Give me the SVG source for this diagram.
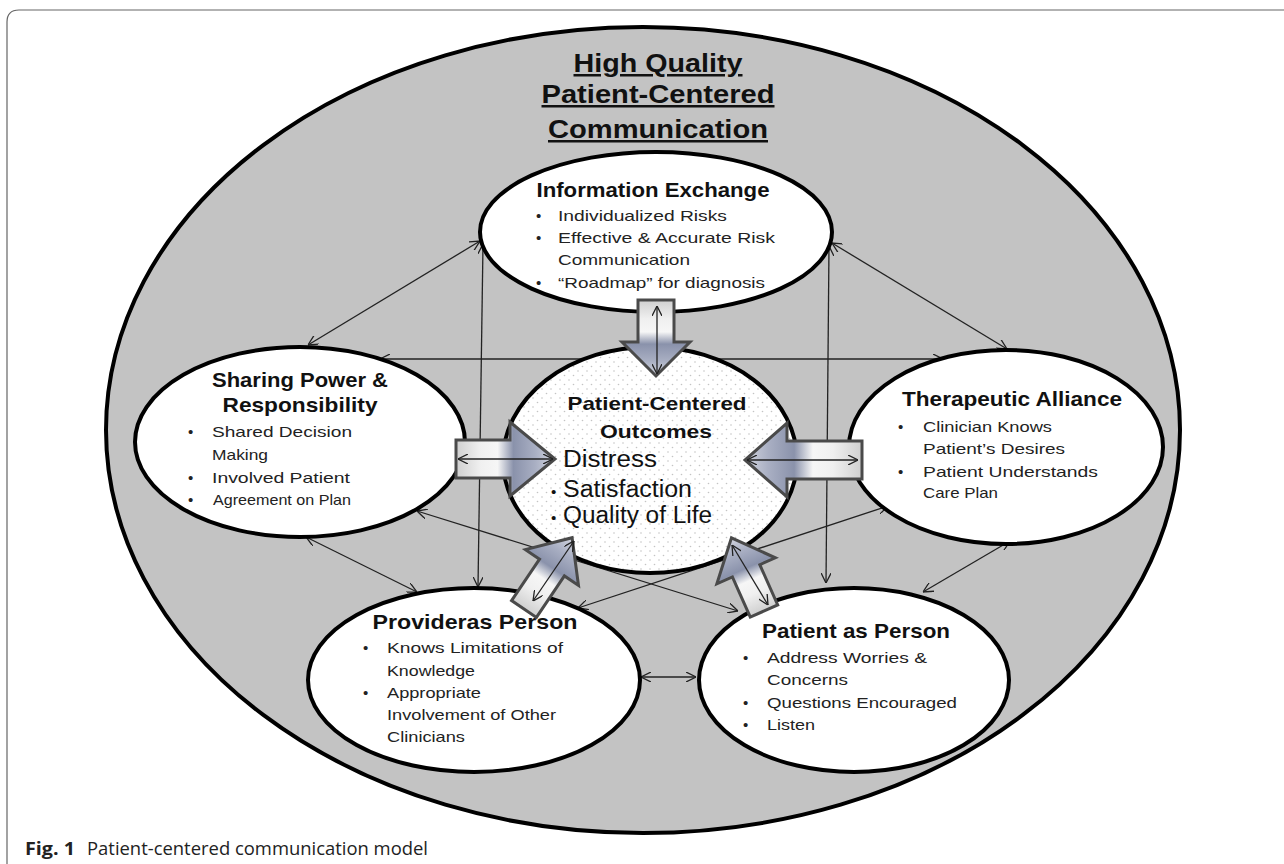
<svg xmlns="http://www.w3.org/2000/svg" width="1284" height="864" viewBox="0 0 1284 864">
<defs>
<style>
.t{font-family:"Liberation Sans",Arial,sans-serif;fill:#111}
.b{font-weight:bold}
.h{font-size:21px;font-weight:bold}
.i{font-size:15px;fill:#222}
.node{fill:#fff;stroke:#000;stroke-width:4}
.con{stroke:#222;stroke-width:1.3;fill:none;marker-start:url(#ah);marker-end:url(#ah)}
.blk{fill:url(#bg);stroke:#4a4a4a;stroke-width:3;stroke-linejoin:miter}
.cap{font-family:"Open Sans","Noto Sans",sans-serif;font-size:18px;fill:#222}
</style>
<marker id="ah" viewBox="0 0 10 10" refX="10" refY="5" markerWidth="10" markerHeight="10" markerUnits="userSpaceOnUse" orient="auto-start-reverse">
<path d="M0,0 L10,5 L0,10" fill="none" stroke="#222" stroke-width="1.3"/>
</marker>
<linearGradient id="bg" x1="0" y1="0" x2="1" y2="0">
<stop offset="0" stop-color="#cfcfcf"/>
<stop offset="0.25" stop-color="#f0f0f0"/>
<stop offset="0.42" stop-color="#f6f6f6"/>
<stop offset="0.58" stop-color="#8a92ab"/>
<stop offset="0.8" stop-color="#a9afc3"/>
<stop offset="1" stop-color="#d2d5df"/>
</linearGradient>
<pattern id="dots" width="9" height="9" patternUnits="userSpaceOnUse">
<rect width="9" height="9" fill="#fff"/>
<circle cx="2" cy="2" r="0.8" fill="#c4c4c4"/>
<circle cx="6.5" cy="6.5" r="0.8" fill="#c4c4c4"/>
</pattern>
</defs>
<rect width="1284" height="864" fill="#fff"/>
<path d="M7,864 L7,22 Q7,10 19,10 L1284,10" fill="none" stroke="#666" stroke-width="1.2"/>

<g id="outer">
<ellipse cx="643" cy="430" rx="537" ry="403" fill="#c3c3c3" stroke="#000" stroke-width="4"/>
<text class="t b" x="658" y="72" font-size="25" text-anchor="middle" text-decoration="underline" textLength="169" lengthAdjust="spacingAndGlyphs">High Quality</text>
<text class="t b" x="658" y="103" font-size="25" text-anchor="middle" text-decoration="underline" textLength="233" lengthAdjust="spacingAndGlyphs">Patient-Centered</text>
<text class="t b" x="658" y="138" font-size="25" text-anchor="middle" text-decoration="underline" textLength="220" lengthAdjust="spacingAndGlyphs">Communication</text>
</g>

<g id="connectors">
<line class="con" x1="480" y1="241" x2="308" y2="345"/>
<line class="con" x1="483" y1="244" x2="478" y2="587"/>
<line class="con" x1="832" y1="243" x2="1007" y2="349"/>
<line class="con" x1="829" y1="246" x2="826" y2="583"/>
<line class="con" x1="380" y1="359" x2="943" y2="359"/>
<line class="con" x1="417" y1="511" x2="738" y2="611"/>
<line class="con" x1="306" y1="537" x2="417" y2="592"/>
<line class="con" x1="578" y1="608" x2="888" y2="506"/>
<line class="con" x1="923" y1="592" x2="1010" y2="541"/>
<line class="con" x1="641" y1="677" x2="696" y2="677"/>
</g>

<g id="information-exchange">
<ellipse class="node" cx="656" cy="232" rx="176" ry="80"/>
<text class="t h" x="653" y="197" text-anchor="middle" textLength="233" lengthAdjust="spacingAndGlyphs" font-size="20">Information Exchange</text>
<text class="t i" x="536" y="221">•</text><text class="t i" x="558" y="221" textLength="169" lengthAdjust="spacingAndGlyphs">Individualized  Risks</text>
<text class="t i" x="536" y="243">•</text><text class="t i" x="558" y="243" textLength="217" lengthAdjust="spacingAndGlyphs">Effective &amp; Accurate Risk</text>
<text class="t i" x="558" y="265" textLength="132" lengthAdjust="spacingAndGlyphs">Communication</text>
<text class="t i" x="536" y="288">•</text><text class="t i" x="558" y="288" textLength="207" lengthAdjust="spacingAndGlyphs">“Roadmap”  for diagnosis</text>
</g>

<g id="sharing-power">
<ellipse class="node" cx="300" cy="442" rx="165" ry="95"/>
<text class="t h" x="300" y="387" text-anchor="middle" textLength="176" lengthAdjust="spacingAndGlyphs">Sharing Power &amp;</text>
<text class="t h" x="300" y="412" text-anchor="middle" textLength="155" lengthAdjust="spacingAndGlyphs">Responsibility</text>
<text class="t i" x="188" y="437">•</text><text class="t i" x="212" y="437" textLength="140" lengthAdjust="spacingAndGlyphs">Shared  Decision</text>
<text class="t i" x="212" y="460" textLength="56" lengthAdjust="spacingAndGlyphs">Making</text>
<text class="t i" x="188" y="483">•</text><text class="t i" x="212" y="483" textLength="138" lengthAdjust="spacingAndGlyphs">Involved Patient</text>
<text class="t i" x="188" y="505">•</text><text class="t i" x="213" y="505" textLength="138" lengthAdjust="spacingAndGlyphs">Agreement on Plan</text>
</g>

<g id="therapeutic-alliance">
<ellipse class="node" cx="1006" cy="447" rx="157" ry="97"/>
<text class="t h" x="1012" y="406" text-anchor="middle" textLength="220" lengthAdjust="spacingAndGlyphs">Therapeutic Alliance</text>
<text class="t i" x="898" y="432">•</text><text class="t i" x="923" y="432" textLength="129" lengthAdjust="spacingAndGlyphs">Clinician Knows</text>
<text class="t i" x="923" y="454" textLength="142" lengthAdjust="spacingAndGlyphs">Patient’s Desires</text>
<text class="t i" x="898" y="477">•</text><text class="t i" x="923" y="477" textLength="175" lengthAdjust="spacingAndGlyphs">Patient Understands</text>
<text class="t i" x="923" y="498" textLength="75" lengthAdjust="spacingAndGlyphs">Care Plan</text>
</g>

<g id="provider-as-person">
<ellipse class="node" cx="474" cy="680" rx="166" ry="92"/>
<text class="t h" x="475" y="629" text-anchor="middle" textLength="205" lengthAdjust="spacingAndGlyphs">Provideras Person</text>
<text class="t i" x="363" y="653">•</text><text class="t i" x="387" y="653" textLength="176" lengthAdjust="spacingAndGlyphs">Knows Limitations of</text>
<text class="t i" x="387" y="676" textLength="88" lengthAdjust="spacingAndGlyphs">Knowledge</text>
<text class="t i" x="363" y="698">•</text><text class="t i" x="387" y="698" textLength="94" lengthAdjust="spacingAndGlyphs">Appropriate</text>
<text class="t i" x="387" y="720" textLength="169" lengthAdjust="spacingAndGlyphs">Involvement of Other</text>
<text class="t i" x="387" y="742" textLength="78" lengthAdjust="spacingAndGlyphs">Clinicians</text>
</g>

<g id="patient-as-person">
<ellipse class="node" cx="854" cy="680" rx="155" ry="92"/>
<text class="t h" x="856" y="638" text-anchor="middle" textLength="188" lengthAdjust="spacingAndGlyphs">Patient as Person</text>
<text class="t i" x="743" y="663">•</text><text class="t i" x="767" y="663" textLength="160" lengthAdjust="spacingAndGlyphs">Address Worries &amp;</text>
<text class="t i" x="767" y="685" textLength="81" lengthAdjust="spacingAndGlyphs">Concerns</text>
<text class="t i" x="743" y="708">•</text><text class="t i" x="767" y="708" textLength="190" lengthAdjust="spacingAndGlyphs">Questions Encouraged</text>
<text class="t i" x="743" y="730">•</text><text class="t i" x="767" y="730" textLength="48" lengthAdjust="spacingAndGlyphs">Listen</text>
</g>

<g id="patient-centered-outcomes">
<ellipse cx="650" cy="460" rx="147" ry="113" fill="url(#dots)" stroke="#000" stroke-width="4"/>
<text class="t b" x="657" y="410" font-size="19" text-anchor="middle" textLength="179" lengthAdjust="spacingAndGlyphs">Patient-Centered</text>
<text class="t b" x="656" y="438" font-size="19" text-anchor="middle" textLength="112" lengthAdjust="spacingAndGlyphs">Outcomes</text>
<text class="t" x="563" y="467" font-size="23" textLength="94" lengthAdjust="spacingAndGlyphs">Distress</text>
<text class="t" x="551" y="497" font-size="15">•</text><text class="t" x="563" y="497" font-size="23" textLength="129" lengthAdjust="spacingAndGlyphs">Satisfaction</text>
<text class="t" x="551" y="523" font-size="15">•</text><text class="t" x="563" y="523" font-size="23" textLength="149" lengthAdjust="spacingAndGlyphs">Quality of Life</text>
</g>

<g id="block-arrows">
<path class="blk" transform="translate(456,459)" d="M0,-19 L54,-19 L54,-37 L99,0 L54,37 L54,19 L0,19 Z"/>
<path class="blk" transform="translate(656,300) rotate(90)" d="M0,-18 L42,-18 L42,-34 L76,0 L42,34 L42,18 L0,18 Z"/>
<path class="blk" transform="translate(862,460) rotate(180)" d="M0,-19 L75,-19 L75,-37 L117,0 L75,37 L75,19 L0,19 Z"/>
<path class="blk" transform="translate(524,609) rotate(-56)" d="M0,-15 L50,-15 L50,-32 L86,0 L50,32 L50,15 L0,15 Z"/>
<path class="blk" transform="translate(764,611) rotate(-114)" d="M0,-15 L44,-15 L44,-32 L80,0 L44,32 L44,15 L0,15 Z"/>
<line class="con" x1="657" y1="306" x2="657" y2="374"/>
<line class="con" x1="458" y1="459" x2="553" y2="459"/>
<line class="con" x1="747" y1="460" x2="858" y2="460"/>
<line class="con" x1="533" y1="601" x2="574" y2="541"/>
<line class="con" x1="732" y1="545" x2="768" y2="605"/>
</g>

<g id="caption">
<text class="cap" x="25" y="855" font-weight="bold" textLength="50" lengthAdjust="spacingAndGlyphs">Fig. 1</text>
<text class="cap" x="87" y="855" textLength="341" lengthAdjust="spacingAndGlyphs">Patient-centered communication model</text>
</g>
</svg>
